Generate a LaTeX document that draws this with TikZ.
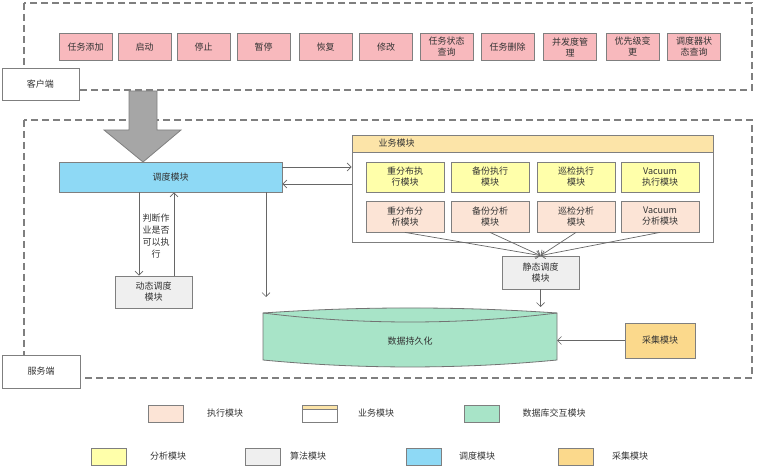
\documentclass[tikz,border=0pt]{standalone}
\usepackage{fontspec}
\setmainfont{Noto Sans CJK SC}
\usepackage{tikz}
\usetikzlibrary{arrows.meta,positioning,calc}

\definecolor{btnpink}{HTML}{F8B9BD}
\definecolor{execyellow}{HTML}{FFFFAA}
\definecolor{anapeach}{HTML}{FCE4D6}
\definecolor{headorange}{HTML}{FCE4A8}
\definecolor{collorange}{HTML}{FBD98C}
\definecolor{schedblue}{HTML}{8ED9F5}
\definecolor{dbgreen}{HTML}{A8E4C8}
\definecolor{algogrey}{HTML}{EFEFEF}
\definecolor{linegrey}{HTML}{7F7F7F}

\begin{document}
\begin{tikzpicture}[x=1pt, y=-1pt,
  every node/.style={font=\fontsize{9}{11}\selectfont, text=black!80},
  box/.style={rectangle, draw=linegrey, line width=0.8pt, inner sep=0pt, align=center},
  btn/.style={box, fill=btnpink, minimum width=53pt, minimum height=27pt},
  mod/.style={box, minimum width=78pt, minimum height=30pt},
  tag/.style={box, fill=white, minimum width=77pt, minimum height=32pt},
  key/.style={box, minimum width=35pt, minimum height=17pt},
  frame/.style={draw=linegrey, line width=1.2pt, dash pattern=on 7pt off 4pt},
  arrow/.style={-{Straight Barb[length=4pt,width=8pt]}, draw=black!60, line width=0.7pt}
]
\useasboundingbox (0,0) rectangle (761,470);

% Client side
\draw[frame] (24,3) rectangle (752,90);
\node[btn] (add) at (85.5,47) {任务添加};
\node[btn] (start) at (144.5,47) {启动};
\node[btn] (stop) at (203.5,47) {停止};
\node[btn] (pause) at (263.5,47) {暂停};
\node[btn] (resume) at (325.5,47) {恢复};
\node[btn] (modify) at (386,47) {修改};
\node[btn] (query) at (446.5,47) {任务状态\\查询};
\node[btn] (delete) at (507.5,47) {任务删除};
\node[btn] (concur) at (570,47) {并发度管\\理};
\node[btn] (prio) at (632.5,47) {优先级变\\更};
\node[btn] (schedquery) at (694,47) {调度器状\\态查询};
\node[tag] (client) at (40.5,84) {客户端};

% Server side
\draw[frame] (24,120) rectangle (752,378);
\node[tag, minimum width=78pt, minimum height=33pt] (server) at (41,371.5) {服务端};

% Request arrow
\draw[fill=black!35, draw=black!50, line width=0.8pt]
  (129,91) -- (157,91) -- (157,130) -- (181,130) -- (143,162) -- (104,130) -- (129,130) -- cycle;

% Scheduler
\node[box, fill=schedblue, minimum width=223pt, minimum height=30pt] (sched) at (170.5,177) {调度模块};
\node[box, fill=algogrey, minimum width=77pt, minimum height=32pt] (dyn) at (153.5,292) {动态调度\\模块};
\node[align=center, font=\fontsize{9}{12}\selectfont] (judge) at (156,236) {判断作\\业是否\\可以执\\行};

% Business modules
\node[box, fill=white, minimum width=361pt, minimum height=107pt] (biz) at (532.5,188.5) {};
\node[box, fill=headorange, minimum width=361pt, minimum height=17pt, anchor=north] (bizhead) at (biz.north) {};
\node[anchor=west] (biztitle) at (375,143.5) {业务模块};
\node[mod, fill=execyellow] (redistexec) at (405,177) {重分布执\\行模块};
\node[mod, fill=execyellow] (backupexec) at (490,177) {备份执行\\模块};
\node[mod, fill=execyellow] (inspexec) at (576,177) {巡检执行\\模块};
\node[mod, fill=execyellow] (vacexec) at (660,177) {Vacuum\\执行模块};
\node[mod, fill=anapeach, minimum height=31pt] (redistana) at (405,216.5) {重分布分\\析模块};
\node[mod, fill=anapeach, minimum height=31pt] (backupana) at (490,216.5) {备份分析\\模块};
\node[mod, fill=anapeach, minimum height=31pt] (inspana) at (576,216.5) {巡检分析\\模块};
\node[mod, fill=anapeach, minimum height=31pt] (vacana) at (660,216.5) {Vacuum\\分析模块};
\node[box, fill=algogrey, minimum width=77pt, minimum height=33pt] (static) at (540.5,272.5) {静态调度\\模块};

% Persistence
\draw[fill=dbgreen, draw=black!55, line width=0.8pt]
  (263,313) .. controls (360,306.3) and (460,306.3) .. (557,313) -- (557,360)
  .. controls (460,369.3) and (360,369.3) .. (263,360) -- cycle;
\draw[draw=black!55, line width=0.8pt] (263,313) .. controls (360,325) and (460,325) .. (557,313);
\node (db) at (410,341) {数据持久化};
\node[box, fill=collorange, minimum width=70pt, minimum height=35pt] (collect) at (660,340.5) {采集模块};
\coordinate (dbleft) at (266,297);
\coordinate (dbtop) at (540.5,307);
\coordinate (dbright) at (557,340.5);

% Arrows
\draw[arrow] ([yshift=10pt]sched.east) -- ([yshift=10pt]sched.east -| biz.west);
\draw[arrow] ([yshift=-7pt]sched.east -| biz.west) -- ([yshift=-7pt]sched.east);
\draw[arrow] ([xshift=-14.5pt]dyn.north |- sched.south) -- ([xshift=-14.5pt]dyn.north);
\draw[arrow] ([xshift=20.5pt]dyn.north) -- ([xshift=20.5pt]dyn.north |- sched.south);
\draw[arrow] (dbleft |- sched.south) -- (dbleft);
\draw[arrow] (redistana.south) -- (static.north);
\draw[arrow] (backupana.south) -- (static.north);
\draw[arrow] (inspana.south) -- (static.north);
\draw[arrow] (vacana.south) -- (static.north);
\draw[arrow] (static.south) -- (dbtop);
\draw[arrow] (collect.west) -- (dbright);

% Legend
\node[key, fill=anapeach] (keyexec) at (166,413.5) {};
\node (keyexectext) at (225,413.5) {执行模块};
\node[key, fill=white] (keybiz) at (319.5,413.5) {};
\node[box, fill=headorange, minimum width=35pt, minimum height=4pt, anchor=north] (keybizhead) at (keybiz.north) {};
\node (keybiztext) at (376,413.5) {业务模块};
\node[key, fill=dbgreen] (keydb) at (481.5,413.5) {};
\node (keydbtext) at (554,413.5) {数据库交互模块};
\node[key, fill=execyellow] (keyana) at (109,456.5) {};
\node (keyanatext) at (168,456.5) {分析模块};
\node[key, fill=algogrey] (keyalgo) at (262.5,456.5) {};
\node (keyalgotext) at (308,456.5) {算法模块};
\node[key, fill=schedblue] (keysched) at (423.5,456.5) {};
\node (keyschedtext) at (477,456.5) {调度模块};
\node[key, fill=collorange] (keycoll) at (575.5,456.5) {};
\node (keycolltext) at (630,456.5) {采集模块};

\end{tikzpicture}
\end{document}
